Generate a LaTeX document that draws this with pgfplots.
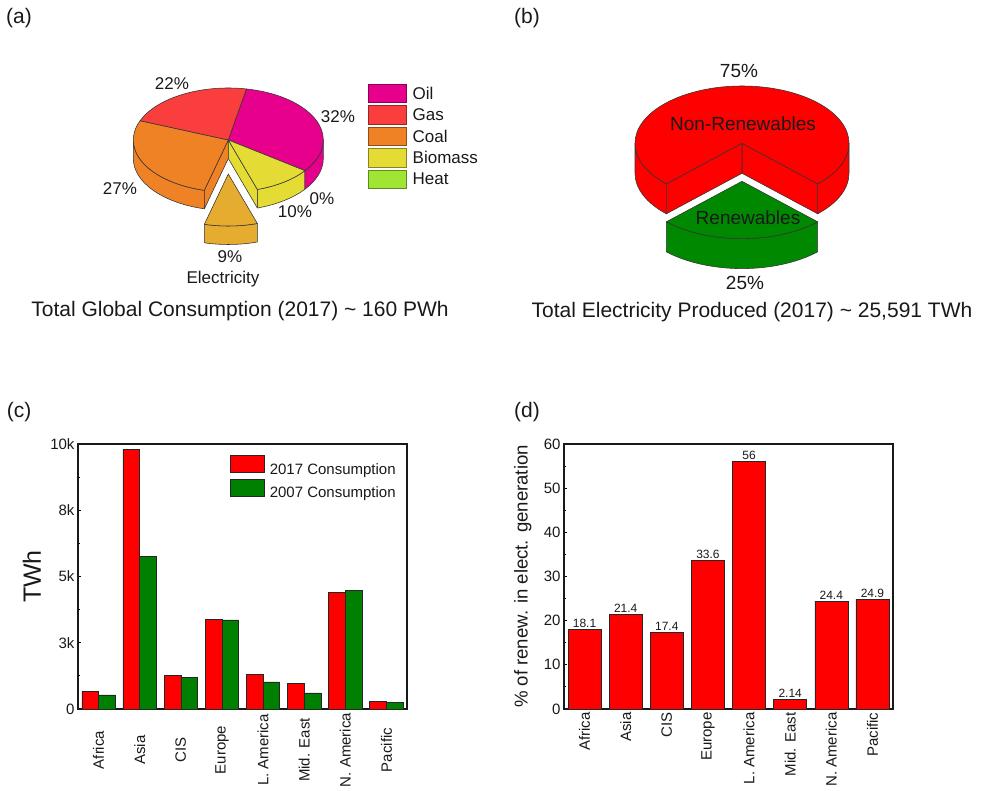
\documentclass[border=0pt]{standalone}
\usepackage{pgfplots}
\usepackage{pgfplotstable}
\pgfplotsset{compat=1.18}
\usepackage{fontspec}
\setmainfont{Liberation Sans}
\setsansfont{Liberation Sans}

\definecolor{oil}{RGB}{230,0,140}
\definecolor{gas}{RGB}{250,62,62}
\definecolor{coal}{RGB}{240,130,38}
\definecolor{biomass}{RGB}{228,220,52}
\definecolor{heat}{RGB}{160,228,52}
\definecolor{elec}{RGB}{230,172,48}
\definecolor{nonren}{RGB}{255,0,0}
\definecolor{ren}{RGB}{0,136,0}
\definecolor{barred}{RGB}{255,0,0}
\definecolor{bargreen}{RGB}{0,128,0}
\definecolor{ink}{RGB}{25,25,25}

\newcommand\fs[1]{\fontsize{#1}{#1}\selectfont}

% Global consumption by source, 2017 (%), in clockwise order
\def\pOil{32}\def\pHeat{0}\def\pBio{10}\def\pElec{9}\def\pCoal{27}\def\pGas{22}
% Electricity produced, 2017 (%)
\def\pNonRen{75}\def\pRen{25}

% slice boundaries of pie (a)
\pgfmathsetmacro\aOilS{79}
\pgfmathsetmacro\aOilE{\aOilS-3.6*\pOil}
\pgfmathsetmacro\aHeatE{\aOilE-3.6*\pHeat}
\pgfmathsetmacro\aBioE{\aHeatE-3.6*\pBio}
\pgfmathsetmacro\aElecE{\aBioE-3.6*\pElec}
\pgfmathsetmacro\aCoalE{\aElecE-3.6*\pCoal}
\pgfmathsetmacro\aGasE{\aCoalE-3.6*\pGas}
% slice boundaries of pie (b): renewables centred at the front
\pgfmathsetmacro\bRenS{-90-1.8*\pRen}
\pgfmathsetmacro\bRenE{-90+1.8*\pRen}
\pgfmathsetmacro\bNonE{\bRenS+360}

% Electricity consumption by region (TWh)
\pgfplotstableread{
x c2017 c2007
1  670  530
2 9790 5750
3 1260 1180
4 3390 3360
5 1310 1020
6  970  610
7 4390 4490
8  280  250
}\consumption

% Share of renewables in electricity generation (%)
\pgfplotstableread{
x share
1 18.1
2 21.4
3 17.4
4 33.6
5 56
6 2.14
7 24.4
8 24.9
}\renshare

\tikzset{pieline/.style={draw=black!80,line width=0.55pt,line join=round}}
\pgfplotsset{/pgf/number format/assume math mode=true}

% top face of a slice: colour, cx, cy, rx, ry, start, end
\newcommand\pietop[7]{%
  \filldraw[pieline,fill=#1] (#2,#3) -- ++(#6:#4pt and #5pt)
    arc[start angle=#6,end angle=#7,x radius=#4pt,y radius=#5pt] -- cycle;}
% outer wall of a slice: colour, cx, cy, rx, ry, depth, start, end
\newcommand\piewall[8]{%
  \filldraw[pieline,fill=#1] (#2,#3) ++(#7:#4pt and #5pt)
    arc[start angle=#7,end angle=#8,x radius=#4pt,y radius=#5pt]
    -- ++(0,-#6pt)
    arc[start angle=#8,end angle=#7,x radius=#4pt,y radius=#5pt] -- cycle;}
% radial cut face: colour, cx, cy, rx, ry, depth, angle
\newcommand\piecut[7]{%
  \filldraw[pieline,fill=#1] (#2,#3) -- ++(0,-#6pt) -- ++(#7:#4pt and #5pt)
    -- ++(0,#6pt) -- cycle;}
% legend swatch of (a): colour, top y, text
\newcommand\pieswatch[3]{%
  \filldraw[fill=#1,draw=#1!60!black,line width=0.6pt]
    (368.5,#2) rectangle (406.7,#2-18.4);
  \node[anchor=west,inner sep=0pt] at (412.5,#2-9.2) {#3};}

\begin{document}%
\begin{tikzpicture}[font=\fs{17},color=ink]
\path[use as bounding box] (0,0) rectangle (987pt,790pt);

% ---------------- pies (a) and (b) ----------------
\begin{axis}[
  at={(0pt,0pt)}, anchor=south west,
  width=987pt, height=790pt, scale only axis,
  xmin=0, xmax=987, ymin=0, ymax=790,
  hide axis, clip=false]
  % (a) main body
  \piewall{coal}{228.3}{650}{95}{52}{18.5}{-180}{\aElecE}
  \piewall{biomass}{228.3}{650}{95}{52}{18.5}{\aBioE}{\aHeatE}
  \piewall{oil}{228.3}{650}{95}{52}{18.5}{\aOilE}{0}
  \piecut{coal}{228.3}{650}{95}{52}{18.5}{\aElecE}
  \piecut{biomass}{228.3}{650}{95}{52}{18.5}{\aBioE}
  \pietop{oil}{228.3}{650}{95}{52}{\aOilS}{\aOilE}
  \pietop{biomass}{228.3}{650}{95}{52}{\aHeatE}{\aBioE}
  \pietop{coal}{228.3}{650}{95}{52}{\aElecE}{\aCoalE}
  \pietop{gas}{228.3}{650}{95}{52}{\aCoalE}{\aGasE}
  % (a) exploded electricity slice
  \piewall{elec}{228.3}{616}{95}{52}{18.5}{\aElecE}{\aBioE}
  \pietop{elec}{228.3}{616}{95}{52}{\aBioE}{\aElecE}

  % (b) main body
  \piewall{nonren}{742}{646.7}{107}{57.3}{30}{180}{\bNonE}
  \piewall{nonren}{742}{646.7}{107}{57.3}{30}{\bRenE}{0}
  \piecut{nonren}{742}{646.7}{107}{57.3}{30}{\bRenE}
  \piecut{nonren}{742}{646.7}{107}{57.3}{30}{\bRenS}
  \pietop{nonren}{742}{646.7}{107}{57.3}{\bRenE}{\bNonE}
  % (b) exploded renewables slice
  \piewall{ren}{742}{608.7}{107}{57.3}{30}{\bRenS}{\bRenE}
  \pietop{ren}{742}{608.7}{107}{57.3}{\bRenS}{\bRenE}

  % labels of (a)
  \node[font=\fs{21}] at (19,771.5) {(a)};
  \node at (172,706) {22\%};
  \node at (338,673) {32\%};
  \node at (120,601) {27\%};
  \node at (322,591) {0\%};
  \node at (295,578) {10\%};
  \node at (230,533) {9\%};
  \node at (223,511) {Electricity};
  \node[font=\fs{21}] at (240,479) {Total Global Consumption (2017) \textasciitilde{} 160 PWh};
  % legend of (a)
  \pieswatch{oil}{705.7}{Oil}
  \pieswatch{gas}{684.3}{Gas}
  \pieswatch{coal}{662.9}{Coal}
  \pieswatch{biomass}{641.5}{Biomass}
  \pieswatch{heat}{620.1}{Heat}

  % labels of (b)
  \node[font=\fs{21}] at (527,771.5) {(b)};
  \node[font=\fs{19}] at (739,719) {75\%};
  \node[font=\fs{19}] at (743,666) {Non-Renewables};
  \node[font=\fs{19}] at (748,572) {Renewables};
  \node[font=\fs{19}] at (745,507) {25\%};
  \node[font=\fs{21}] at (752,478) {Total Electricity Produced (2017) \textasciitilde{} 25,591 TWh};

  \node[font=\fs{21}] at (19,378) {(c)};
  \node[font=\fs{21}] at (527,378) {(d)};
\end{axis}

% ---------------- (c) consumption by region ----------------
\begin{axis}[
  at={(78pt,81pt)}, anchor=south west,
  width=329pt, height=265pt, scale only axis,
  xmin=0.5, xmax=8.5, ymin=0, ymax=10000,
  ybar=0pt, bar width=16.7pt,
  xtick={1,...,8},
  xticklabels={Africa,Asia,CIS,Europe,L. America,Mid. East,N. America,Pacific},
  xticklabel style={yshift=-41pt,rotate=90,anchor=center,font=\fs{15}},
  major x tick style={draw=none},
  ytick={0,2500,5000,7500,10000}, yticklabels={0,3k,5k,8k,10k},
  scaled y ticks=false,
  minor y tick num=1,
  ytick pos=left,
  yticklabel style={font=\fs{15}},
  tick align=inside, major tick length=3pt, minor tick length=2pt,
  tick style={line width=1pt,black},
  axis line style={line width=1.3pt},
  ylabel={TWh},
  every axis y label/.style={at={(axis description cs:-0.14,0.5)},rotate=90,anchor=center,font=\fs{25}},
  legend style={draw=none,fill=none,inner sep=0pt,
    at={(axis description cs:0.462,0.9585)},anchor=north west,
    font=\fs{15},row sep=3pt,
    nodes={inner sep=0pt},
    /tikz/every odd column/.append style={column sep=5pt}},
  legend cell align=left,
]
\addplot[fill=barred,draw=black!85,line width=0.6pt,
  legend image code/.code={\filldraw[fill=barred,draw=black!85,line width=0.6pt] (0pt,-3pt) rectangle (34pt,14pt);}]
  table[x=x,y=c2017] {\consumption};
\addplot[fill=bargreen,draw=black!85,line width=0.6pt,
  legend image code/.code={\filldraw[fill=bargreen,draw=black!85,line width=0.6pt] (0pt,-3pt) rectangle (34pt,14pt);}]
  table[x=x,y=c2007] {\consumption};
\legend{2017 Consumption,2007 Consumption}
\end{axis}

% ---------------- (d) renewable share ----------------
\begin{axis}[
  at={(564pt,81pt)}, anchor=south west,
  width=329pt, height=265pt, scale only axis,
  xmin=0.5, xmax=8.5, ymin=0, ymax=60,
  ybar, bar width=33pt,
  xtick={1,...,8},
  xticklabels={Africa,Asia,CIS,Europe,L. America,Mid. East,N. America,Pacific},
  xticklabel style={rotate=90,anchor=east,font=\fs{15}},
  major x tick style={draw=none},
  ytick={0,10,...,60},
  minor y tick num=1,
  ytick pos=left,
  yticklabel style={font=\fs{15}},
  tick align=inside, major tick length=3pt, minor tick length=2pt,
  tick style={line width=1pt,black},
  axis line style={line width=1.3pt},
  ylabel={\% of renew. in elect. generation},
  every axis y label/.style={at={(axis description cs:-0.1255,0.5)},rotate=90,anchor=center,font=\fs{18.6}},
  nodes near coords={\pgfmathprintnumber[precision=2]{\pgfplotspointmeta}},
  every node near coord/.append style={font=\fs{12},inner sep=1.5pt,anchor=south,color=ink},
]
\addplot[fill=barred,draw=black!85,line width=0.6pt] table[x=x,y=share] {\renshare};
\end{axis}
\end{tikzpicture}%
\end{document}
